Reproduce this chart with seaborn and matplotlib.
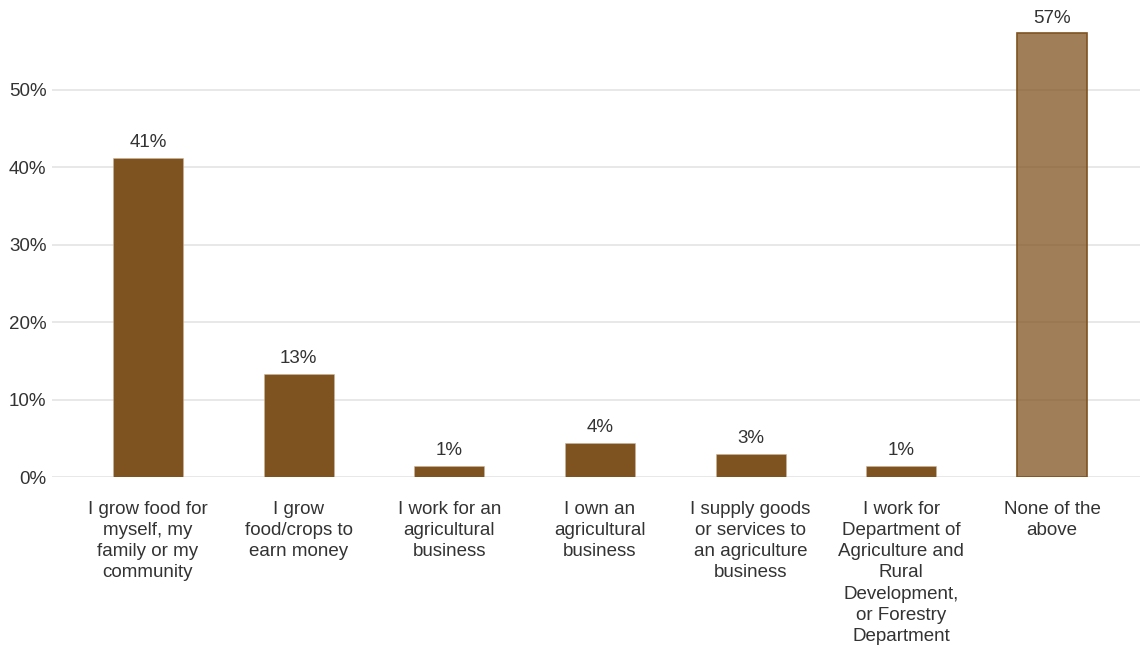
import matplotlib
matplotlib.use("Agg")
import matplotlib.pyplot as plt
import seaborn as sns
import pandas as pd
from matplotlib.ticker import FuncFormatter

categories = [
    "I grow food for\nmyself, my\nfamily or my\ncommunity",
    "I grow\nfood/crops to\nearn money",
    "I work for an\nagricultural\nbusiness",
    "I own an\nagricultural\nbusiness",
    "I supply goods\nor services to\nan agriculture\nbusiness",
    "I work for\nDepartment of\nAgriculture and\nRural\nDevelopment,\nor Forestry\nDepartment",
    "None of the\nabove",
]
values = [41.2, 13.3, 1.4, 4.4, 3.0, 1.4, 57.3]
ytick_values = [0, 10, 20, 30, 40, 50]

BROWN = "#7f5320"
TEXT = "#333333"
FS = 13.5

sns.set_theme(style="white")
plt.rcParams["font.family"] = ["Liberation Sans", "DejaVu Sans"]

df = pd.DataFrame({"category": categories, "value": values})

fig = plt.figure(figsize=(11.4, 6.45), dpi=100)
ax = fig.add_axes([52 / 1140, 1 - 477 / 645, (1140 - 52) / 1140, (477 - 12.6) / 645])

sns.barplot(data=df, x="category", y="value", hue="category",
            palette=[BROWN] * len(categories), legend=False,
            width=0.465, ax=ax, zorder=3, saturation=1)

for i, patch in enumerate(ax.patches):
    if i == len(ax.patches) - 1:
        patch.set_facecolor((0.498, 0.325, 0.125, 0.75))
        patch.set_edgecolor(BROWN)
        patch.set_linewidth(1.2)
    else:
        patch.set_edgecolor("#c9b59c")
        patch.set_linewidth(0.4)

for i, v in enumerate(values):
    ax.annotate(f"{v:.0f}%", (i, v), xytext=(0, 5), textcoords="offset points",
                ha="center", va="bottom", fontsize=FS, color=TEXT)

ax.set_xlim(-0.637, 6.584)
ax.set_ylim(0, 60)
ax.set_yticks(ytick_values)
ax.yaxis.set_major_formatter(FuncFormatter(lambda v, _: f"{v:.0f}%"))
ax.grid(axis="y", color="#e6e6e6", linewidth=1.3, zorder=0)
ax.set_axisbelow(True)
for s in ax.spines.values():
    s.set_visible(False)
ax.tick_params(axis="both", length=0, labelsize=FS, colors=TEXT)
ax.tick_params(axis="x", pad=17)
ax.tick_params(axis="y", pad=4)
for lbl in ax.get_xticklabels():
    lbl.set_linespacing(1.33)
ax.set_xlabel("")
ax.set_ylabel("")

fig.savefig("out.png", dpi=100)
